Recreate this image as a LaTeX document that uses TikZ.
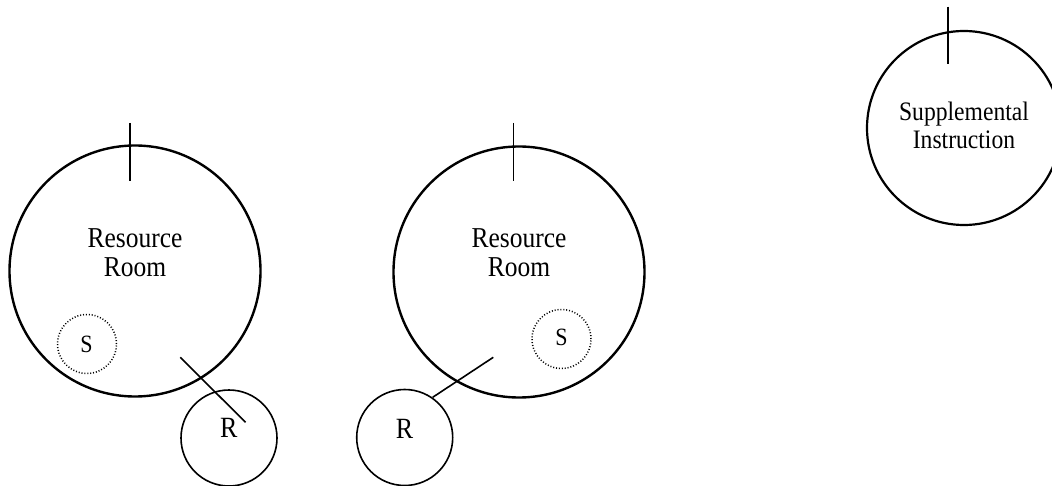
\documentclass[tikz,border=0pt]{standalone}
\usepackage{fontspec}
\setmainfont{Liberation Serif}
\newcommand{\vs}[1]{\scalebox{1}[1.13]{#1}}
\begin{document}
\begin{tikzpicture}[x=1pt,y=-1pt,
  bigcirc/.style={circle,draw,line width=2.4pt,inner sep=0pt,minimum size=251pt},
  smallcirc/.style={circle,draw,line width=1.6pt,inner sep=0pt,minimum size=96pt},
  scirc/.style={circle,draw,dash pattern=on 1pt off 1.9pt,line width=1.5pt,inner sep=0pt,minimum size=59pt},
  tick/.style={line width=1.7pt},
  link/.style={line width=1.6pt},
  bigtxt/.style={font=\fontsize{25.5}{29}\selectfont,inner sep=0pt,anchor=base},
  rtxt/.style={font=\fontsize{26}{29}\selectfont,inner sep=0pt,anchor=base},
  stxt/.style={font=\fontsize{22}{26}\selectfont,inner sep=0pt,anchor=base},
  sitxt/.style={font=\fontsize{23.6}{27}\selectfont,inner sep=0pt,anchor=base}]
\useasboundingbox (0,0) rectangle (1052,486);
\clip (0,0) rectangle (1052,486);
% left group
\node[bigcirc] (rr1) at (135,271) {};
\node[bigtxt] (rr1a) at (135,247.2) {\vs{Resource}};
\node[bigtxt] (rr1b) at (135,276.7) {\vs{Room}};
\coordinate (t1a) at (130,123);
\coordinate (t1b) at (130,181);
\draw[tick] (t1a) -- (t1b);
\node[scirc] (s1) at (87,344) {};
\node[stxt] (s1t) at (86.5,352.7) {\vs{S}};
\node[smallcirc] (r1) at (229,438) {};
\node[rtxt] (r1t) at (228.8,437.3) {\vs{R}};
\coordinate (l1a) at (180.3,357.3);
\coordinate (l1b) at (245.5,422.3);
\draw[link] (l1a) -- (l1b);
% middle group
\node[bigcirc] (rr2) at (519,272) {};
\node[bigtxt] (rr2a) at (519,247.2) {\vs{Resource}};
\node[bigtxt] (rr2b) at (519,276.7) {\vs{Room}};
\coordinate (t2a) at (513.5,123);
\coordinate (t2b) at (513.5,181);
\draw[tick] (t2a) -- (t2b);
\node[scirc] (s2) at (561.5,339) {};
\node[stxt] (s2t) at (561.5,345.7) {\vs{S}};
\node[smallcirc] (r2) at (404.7,437.5) {};
\node[rtxt] (r2t) at (404.5,438.3) {\vs{R}};
\coordinate (l2a) at (493.3,357.3);
\coordinate (l2b) at (432.7,397.3);
\draw[link] (l2a) -- (l2b);
% right group
\node[circle,draw,line width=2.2pt,inner sep=0pt,minimum size=194pt] (si) at (964,128) {};
\node[sitxt] (sia) at (964,120.7) {\vs{Supplemental}};
\node[sitxt] (sib) at (964,148.3) {\vs{Instruction}};
\coordinate (t3a) at (948.3,6.7);
\coordinate (t3b) at (948.3,64.3);
\draw[tick] (t3a) -- (t3b);
\end{tikzpicture}
\end{document}
